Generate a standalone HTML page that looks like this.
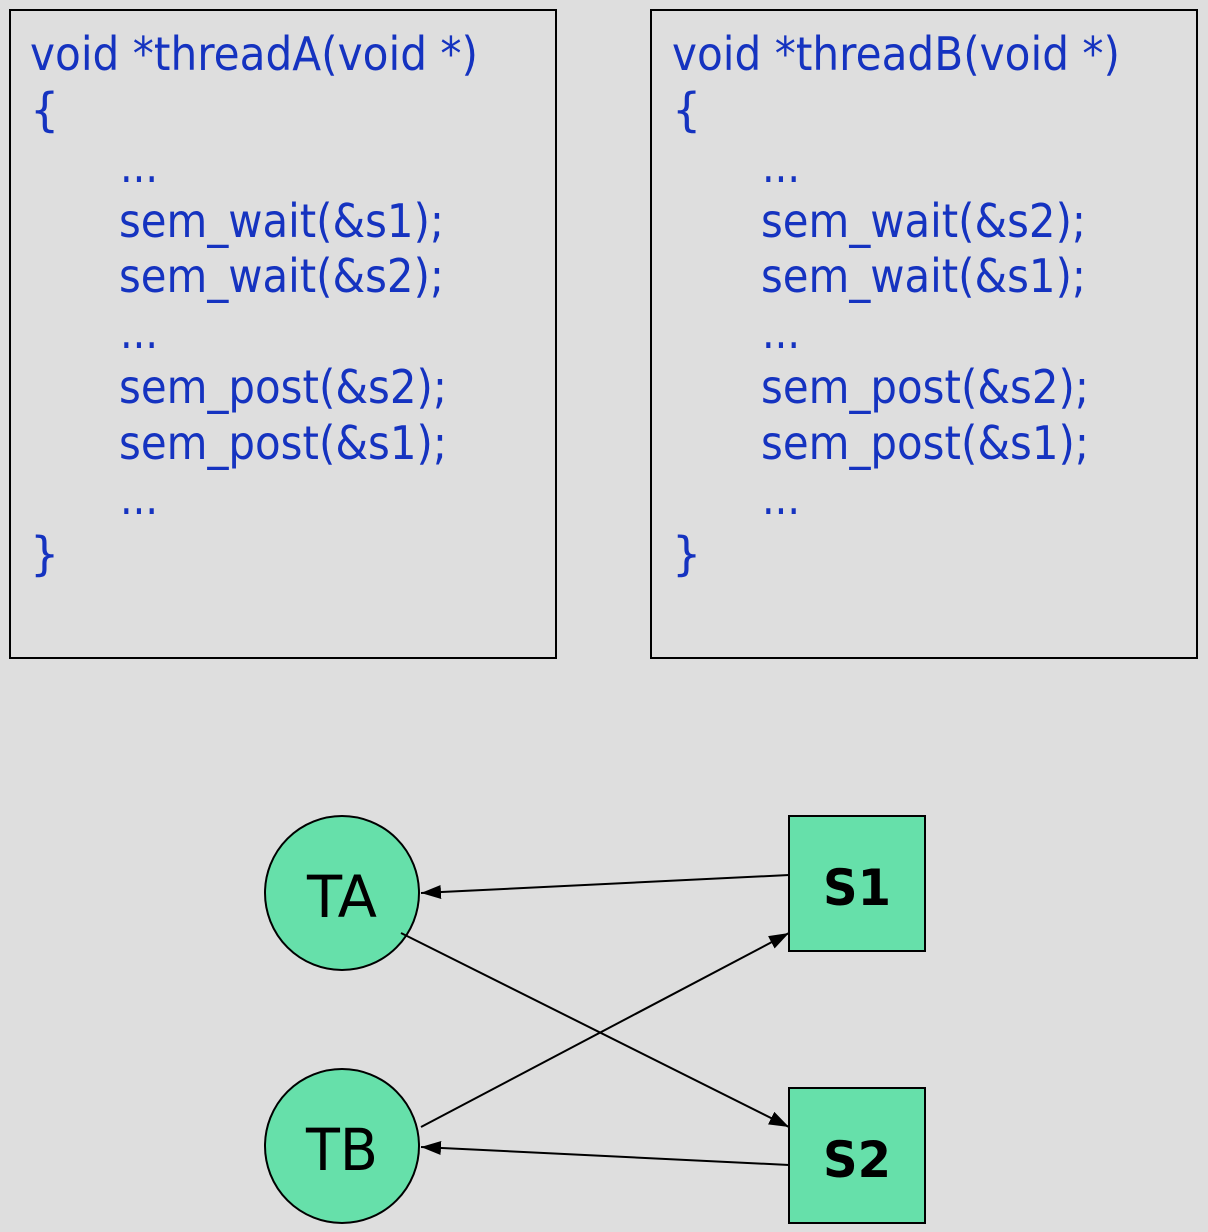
<!DOCTYPE html>
<html><head><style>
html,body{margin:0;padding:0;background:#dedede;}
svg{display:block}
.c{font-family:"DejaVu Sans","Liberation Sans",sans-serif;font-size:46px;fill:#1533c0;}
</style></head><body>
<svg width="1208" height="1232" viewBox="0 0 1208 1232" xmlns="http://www.w3.org/2000/svg">
<defs><marker id="ah2" markerWidth="20" markerHeight="16" refX="20" refY="8" orient="auto" markerUnits="userSpaceOnUse"><path d="M0,1 L20,8 L0,15 z" fill="#000"/></marker></defs>
<rect x="10" y="10" width="546" height="648" fill="#dedede" stroke="#000" stroke-width="2"/>
<rect x="651" y="10" width="546" height="648" fill="#dedede" stroke="#000" stroke-width="2"/>
<g class="c">
<text x="30" y="70" textLength="448" lengthAdjust="spacingAndGlyphs">void *threadA(void *)</text>
<text x="30" y="126">{</text>
<text x="120" y="182" textLength="38" lengthAdjust="spacingAndGlyphs">...</text>
<text x="119" y="237" textLength="325" lengthAdjust="spacingAndGlyphs">sem_wait(&amp;s1);</text>
<text x="119" y="292" textLength="325" lengthAdjust="spacingAndGlyphs">sem_wait(&amp;s2);</text>
<text x="120" y="348" textLength="38" lengthAdjust="spacingAndGlyphs">...</text>
<text x="119" y="403" textLength="328" lengthAdjust="spacingAndGlyphs">sem_post(&amp;s2);</text>
<text x="119" y="459" textLength="328" lengthAdjust="spacingAndGlyphs">sem_post(&amp;s1);</text>
<text x="120" y="514" textLength="38" lengthAdjust="spacingAndGlyphs">...</text>
<text x="30" y="570">}</text>
<text x="672" y="70" textLength="448" lengthAdjust="spacingAndGlyphs">void *threadB(void *)</text>
<text x="672" y="126">{</text>
<text x="762" y="182" textLength="38" lengthAdjust="spacingAndGlyphs">...</text>
<text x="761" y="237" textLength="325" lengthAdjust="spacingAndGlyphs">sem_wait(&amp;s2);</text>
<text x="761" y="292" textLength="325" lengthAdjust="spacingAndGlyphs">sem_wait(&amp;s1);</text>
<text x="762" y="348" textLength="38" lengthAdjust="spacingAndGlyphs">...</text>
<text x="761" y="403" textLength="328" lengthAdjust="spacingAndGlyphs">sem_post(&amp;s2);</text>
<text x="761" y="459" textLength="328" lengthAdjust="spacingAndGlyphs">sem_post(&amp;s1);</text>
<text x="762" y="514" textLength="38" lengthAdjust="spacingAndGlyphs">...</text>
<text x="672" y="570">}</text>
</g>
<circle cx="342" cy="893" r="77" fill="#66e0aa" stroke="#000" stroke-width="2"/>
<circle cx="342" cy="1146" r="77" fill="#66e0aa" stroke="#000" stroke-width="2"/>
<rect x="789" y="816" width="136" height="135" fill="#66e0aa" stroke="#000" stroke-width="2"/>
<rect x="789" y="1088" width="136" height="135" fill="#66e0aa" stroke="#000" stroke-width="2"/>
<g font-family="DejaVu Sans, Liberation Sans, sans-serif" text-anchor="middle">
<text x="342" y="917" font-size="58" textLength="70" lengthAdjust="spacingAndGlyphs">TA</text>
<text x="342" y="1170" font-size="58" textLength="72" lengthAdjust="spacingAndGlyphs">TB</text>
<text x="857" y="905" font-size="50" font-weight="bold" textLength="68" lengthAdjust="spacingAndGlyphs">S1</text>
<text x="857" y="1177" font-size="50" font-weight="bold" textLength="68" lengthAdjust="spacingAndGlyphs">S2</text>
</g>
<g stroke="#000" stroke-width="2" fill="none">
<line x1="789" y1="875" x2="421" y2="893" marker-end="url(#ah2)"/>
<line x1="401" y1="933" x2="789" y2="1127" marker-end="url(#ah2)"/>
<line x1="421" y1="1127" x2="789" y2="933" marker-end="url(#ah2)"/>
<line x1="789" y1="1165" x2="421" y2="1147" marker-end="url(#ah2)"/>
</g>
</svg>
</body></html>
